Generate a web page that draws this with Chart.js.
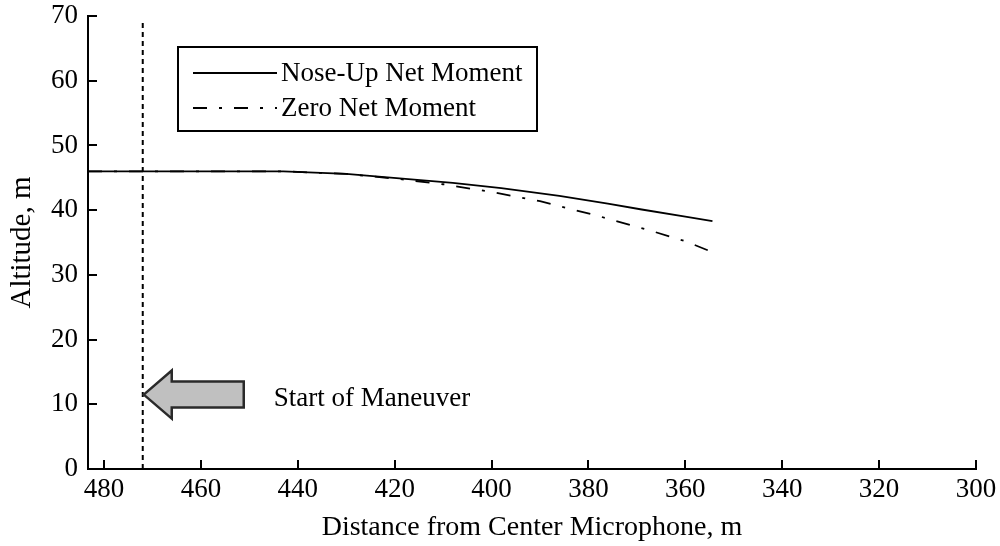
<!DOCTYPE html>
<html>
<head>
<meta charset="utf-8">
<script src="https://cdn.jsdelivr.net/npm/chart.js@4/dist/chart.umd.min.js"></script>
<style>
  html, body { margin: 0; padding: 0; background: #fff; }
  #wrap { width: 1000px; height: 546px; }
</style>
</head>
<body>
<div id="wrap"><canvas id="altChart" width="1000" height="546"></canvas></div>
<script>
// trajectory data, distance (m) vs altitude (m)
const noseUpDist = [483.3, 443, 430, 419, 408, 398, 386, 376, 369, 360, 354.4];
const noseUpAlt  = [46.0, 46.0, 45.6, 44.9, 44.2, 43.4, 42.2, 41.0, 40.1, 39.0, 38.3];
const zeroDist = [483.3, 443, 430, 419, 410, 400, 390, 377.5, 366.6, 360, 353.7];
const zeroAlt  = [46.0, 46.0, 45.6, 44.8, 44.0, 42.8, 41.4, 39.0, 36.7, 35.2, 33.3];

// maneuver marker
const maneuverDist = 472;
const maneuverTop = 69;
const arrowAlt = 11.5;

const xTicks = [480, 460, 440, 420, 400, 380, 360, 340, 320, 300];
const yTicks = [0, 10, 20, 30, 40, 50, 60, 70];

const seriesLabels = ['Nose-Up Net Moment', 'Zero Net Moment'];
const FONT = 'Liberation Serif, Times New Roman, serif';

function toPoints(xs, ys) {
    return xs.map((x, i) => ({ x: x, y: ys[i] }));
}

// inward tick marks, legend box and the "start of maneuver" arrow
const extras = {
    id: 'extras',
    afterDraw(chart) {
        const ctx = chart.ctx;
        const area = chart.chartArea;
        const xs = chart.scales.x;
        const ys = chart.scales.y;

        ctx.save();
        ctx.strokeStyle = '#000';
        ctx.lineWidth = 2;
        ctx.beginPath();
        xTicks.forEach(v => {
            const px = Math.round(xs.getPixelForValue(v));
            ctx.moveTo(px, area.bottom);
            ctx.lineTo(px, area.bottom - 9);
        });
        yTicks.forEach(v => {
            const py = Math.round(ys.getPixelForValue(v));
            ctx.moveTo(area.left, py);
            ctx.lineTo(area.left + 9, py);
        });
        ctx.stroke();

        // legend
        ctx.lineWidth = 2;
        ctx.strokeRect(178, 47, 359, 84);
        ctx.font = '27px ' + FONT;
        ctx.fillStyle = '#000';
        ctx.textBaseline = 'middle';
        const rows = [73, 108];
        chart.data.datasets.forEach((ds, i) => {
            if (!ds.label) return;
            const y = rows[i];
            ctx.beginPath();
            ctx.lineWidth = ds.borderWidth;
            ctx.setLineDash(ds.borderDash || []);
            ctx.moveTo(193, y);
            ctx.lineTo(277, y);
            ctx.stroke();
            ctx.setLineDash([]);
            ctx.fillText(ds.label, 281, y + 1);
        });

        // arrow pointing at the maneuver line
        const tipX = xs.getPixelForValue(maneuverDist) + 1;
        const tipY = ys.getPixelForValue(arrowAlt);
        ctx.beginPath();
        ctx.moveTo(tipX, tipY);
        ctx.lineTo(tipX + 28, tipY - 24);
        ctx.lineTo(tipX + 28, tipY - 13);
        ctx.lineTo(tipX + 100, tipY - 13);
        ctx.lineTo(tipX + 100, tipY + 13);
        ctx.lineTo(tipX + 28, tipY + 13);
        ctx.lineTo(tipX + 28, tipY + 24);
        ctx.closePath();
        ctx.fillStyle = '#c0c0c0';
        ctx.fill();
        ctx.strokeStyle = '#2a2a2a';
        ctx.lineWidth = 2.5;
        ctx.stroke();

        ctx.fillStyle = '#000';
        ctx.textBaseline = 'middle';
        ctx.fillText('Start of Maneuver', tipX + 130, tipY + 4);
        ctx.restore();
    }
};

const chart = new Chart(document.getElementById('altChart'), {
    type: 'scatter',
    data: {
        datasets: [
            {
                label: seriesLabels[0],
                data: toPoints(noseUpDist, noseUpAlt),
                showLine: true,
                borderColor: '#000',
                borderWidth: 1.8,
                pointRadius: 0,
                tension: 0
            },
            {
                label: seriesLabels[1],
                data: toPoints(zeroDist, zeroAlt),
                showLine: true,
                borderColor: '#000',
                borderWidth: 1.8,
                borderDash: [14, 12, 3, 12],
                pointRadius: 0,
                tension: 0
            },
            {
                label: '',
                data: [{ x: maneuverDist, y: 0 }, { x: maneuverDist, y: maneuverTop }],
                showLine: true,
                borderColor: '#000',
                borderWidth: 2,
                borderDash: [5, 4],
                pointRadius: 0
            }
        ]
    },
    options: {
        responsive: false,
        animation: false,
        layout: { padding: { top: 16, right: 24, bottom: 0, left: 0 } },
        plugins: {
            legend: { display: false },
            tooltip: { enabled: false }
        },
        scales: {
            x: {
                type: 'linear',
                reverse: true,
                min: 300,
                max: 483.3,
                afterBuildTicks: s => { s.ticks = xTicks.map(v => ({ value: v })); },
                afterFit: s => { s.height = 77; s.paddingLeft = 0; s.paddingRight = 0; },
                grid: { display: false, drawTicks: false },
                border: { display: true, color: '#000', width: 2 },
                ticks: { color: '#000', padding: 5, maxRotation: 0, font: { family: FONT, size: 27 } },
                title: {
                    display: true,
                    text: 'Distance from Center Microphone, m',
                    color: '#000',
                    font: { family: FONT, size: 28 },
                    padding: { top: 0, bottom: 2 }
                }
            },
            y: {
                min: 0,
                max: 70,
                afterBuildTicks: s => { s.ticks = yTicks.map(v => ({ value: v })); },
                afterFit: s => { s.width = 88; s.paddingTop = 0; s.paddingBottom = 0; },
                grid: { display: false, drawTicks: false },
                border: { display: true, color: '#000', width: 2 },
                ticks: { color: '#000', padding: 10, font: { family: FONT, size: 27 } },
                title: {
                    display: true,
                    text: 'Altitude, m',
                    color: '#000',
                    font: { family: FONT, size: 29 },
                    padding: { top: 5, bottom: 0 }
                }
            }
        }
    },
    plugins: [extras]
});
</script>
</body>
</html>
